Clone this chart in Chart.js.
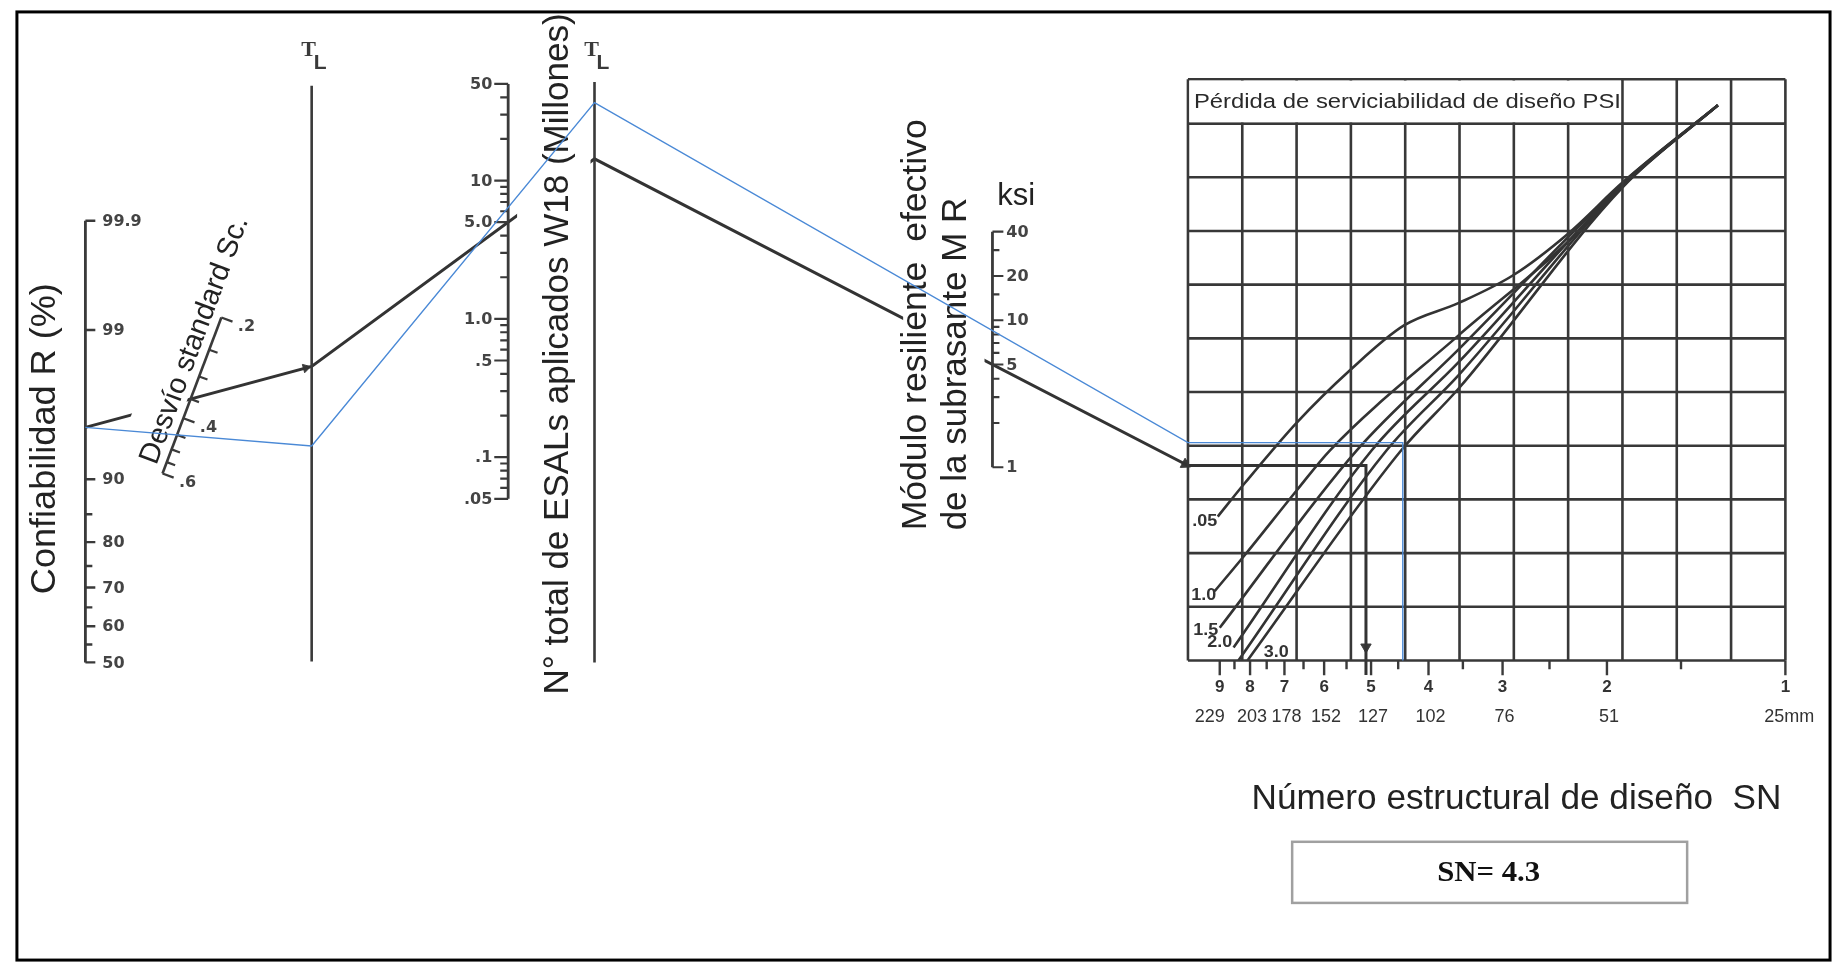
<!DOCTYPE html>
<html>
<head>
<meta charset="utf-8">
<title>Ábaco de diseño - Número estructural SN</title>
<script src="https://cdn.jsdelivr.net/npm/chart.js@4.4.1/dist/chart.umd.min.js"></script>
<style>
  html, body { margin: 0; padding: 0; background: #fff; }
  #wrap { position: relative; width: 1843px; height: 972px; }
</style>
</head>
<body>
<div id="wrap"><canvas id="abaco" width="1843" height="972"></canvas></div>
<script>
// ---- scale values ----
const rLabels = [50, 60, 70, 80, 90, 99, 99.9];
const rMinor = [55, 65, 75, 85];
const scTicks = [0.2, 0.25, 0.3, 0.35, 0.4, 0.45, 0.5, 0.55, 0.6];
const scLabels = [0.2, 0.4, 0.6];
const w18Labels = [0.05, 0.1, 0.5, 1, 5, 10, 50];
const w18Text = ['.05', '.1', '.5', '1.0', '5.0', '10', '50'];
const w18Minor = [0.06, 0.07, 0.08, 0.09, 0.2, 0.3, 0.4, 0.6, 0.7, 0.8, 0.9, 2, 3, 4, 6, 7, 8, 9, 20, 30, 40];
const mrLabels = [1, 5, 10, 20, 40];
const mrMinor = [2, 3, 4, 6, 7, 8, 9, 15, 30];
const snLabels = [1, 2, 3, 4, 5, 6, 7, 8, 9];
const snMinor = [1.5, 2.5, 3.5, 4.5, 5.5, 6.5, 7.5, 8.5];
const mmLabels = ['25mm', '51', '76', '102', '127', '152', '178', '203', '229'];

// curves of design serviceability loss (SN on x, grid rows on y)
const psiNames = ['.05', '1.0', '1.5', '2.0', '2.5', '3.0'];
const psi05SN = [9.07, 8.17, 6.66, 5.41, 4.40, 3.555, 2.875, 2.326, 1.875, 1.30];
const psi05V = [2.68, 3.30, 4.44, 5.42, 6.24, 6.66, 7.18, 7.95, 8.92, 10.34];
const psi10SN = [9.18, 8.17, 6.66, 5.87, 3.555, 2.326, 1.875, 1.30];
const psi10V = [1.29, 1.96, 3.18, 3.91, 6.06, 7.80, 8.90, 10.34];
const psi15SN = [9.00, 5.29, 3.555, 1.875, 1.30];
const psi15V = [0.61, 3.91, 5.80, 8.89, 10.34];
const psi20SN = [8.53, 4.99, 3.555, 1.875, 1.30];
const psi20V = [0.24, 3.91, 5.56, 8.87, 10.34];
const psi25SN = [8.37, 4.71, 3.555, 1.875, 1.30];
const psi25V = [0.00, 3.91, 5.32, 8.85, 10.34];
const psi30SN = [8.08, 4.45, 3.555, 1.875, 1.30];
const psi30V = [0.00, 3.91, 5.07, 8.83, 10.34];

// solution lines: 0 = example of the chart (black), 1 = design (blue)
const solR = [95, 95];
const solS0 = [0.35, 0.45];
const solW18 = [5.0, 6.4];
const solMR = [5.0, 8.5];
const solSN = [5.1, 4.42];

// ---- layout of the nomograph (page units) ----
const R_AXIS = { x: 79, y0: 665, k: 145 };
const SC_AXIS = { x1: 216, y1: 315, x2: 156.7, y2: 473.3, c: 0.285 };
const TL1 = { x: 307, top: 80, bot: 664 };
const TL2 = { x: 592, top: 76, bot: 665 };
const W18_AXIS = { x: 505, yTop: 78, yBot: 499, vTop: 50, vBot: 0.05 };
const MR_AXIS = { x: 993, yTop: 228, yBot: 467, vTop: 40, vBot: 1 };
const GRID = { left: 1190, right: 1792, top: 73.3, head: 118.3, bottom: 663, cols: 11, rows: 10 };
const SN_AXIS = { x1: 1792, decade: 597.3 };

const SANS = '"Liberation Sans", Arial, Helvetica, sans-serif';
const SERIF = '"Liberation Serif", "Times New Roman", serif';
const TICKFONT = 'bold 16px "DejaVu Sans", sans-serif';
const INK = '#3a3a3a';
const BLUE = '#4a89d6';

// inverse of the standard normal (reliability scale is linear in Z)
function normInv(p) {
    const a = [-39.69683028665376, 220.9460984245205, -275.9285104469687, 138.3577518672690, -30.66479806614716, 2.506628277459239];
    const b = [-54.47609879822406, 161.5858368580409, -155.6989798598866, 66.80131188771972, -13.28068155288572];
    const c = [-0.007784894002430293, -0.3223964580411365, -2.400758277161838, -2.549671348830303, 4.374664141464968, 2.938163982698783];
    const d = [0.007784695709041462, 0.3224671290700398, 2.445134137142996, 3.754408661907416];
    if (p < 0.02425) {
        const q = Math.sqrt(-2 * Math.log(p));
        return (((((c[0] * q + c[1]) * q + c[2]) * q + c[3]) * q + c[4]) * q + c[5]) / ((((d[0] * q + d[1]) * q + d[2]) * q + d[3]) * q + 1);
    }
    if (p > 1 - 0.02425) {
        const q = Math.sqrt(-2 * Math.log(1 - p));
        return -(((((c[0] * q + c[1]) * q + c[2]) * q + c[3]) * q + c[4]) * q + c[5]) / ((((d[0] * q + d[1]) * q + d[2]) * q + d[3]) * q + 1);
    }
    const q = p - 0.5, r = q * q;
    return (((((a[0] * r + a[1]) * r + a[2]) * r + a[3]) * r + a[4]) * r + a[5]) * q / (((((b[0] * r + b[1]) * r + b[2]) * r + b[3]) * r + b[4]) * r + 1);
}

function rPt(r) { return { x: R_AXIS.x, y: R_AXIS.y0 - R_AXIS.k * normInv(r / 100) }; }
function scFrac(s) { const c = SC_AXIS.c; return ((s - 0.2) / (s + c)) / (0.4 / (0.6 + c)); }
function scPt(s) {
    const f = scFrac(s);
    return { x: SC_AXIS.x1 + (SC_AXIS.x2 - SC_AXIS.x1) * f, y: SC_AXIS.y1 + (SC_AXIS.y2 - SC_AXIS.y1) * f };
}
function logPt(ax, v) {
    const f = (Math.log10(ax.vTop) - Math.log10(v)) / (Math.log10(ax.vTop) - Math.log10(ax.vBot));
    return { x: ax.x, y: ax.yTop + (ax.yBot - ax.yTop) * f };
}
function gridPt(sn, v) {
    return { x: SN_AXIS.x1 - SN_AXIS.decade * Math.log10(sn), y: GRID.bottom - v * (GRID.bottom - GRID.head) / GRID.rows };
}
function atX(p, q, x) { return { x: x, y: p.y + (q.y - p.y) * (x - p.x) / (q.x - p.x) }; }

// Sc scale direction (bottom -> top) and its right-hand normal
const scLen = Math.hypot(SC_AXIS.x1 - SC_AXIS.x2, SC_AXIS.y1 - SC_AXIS.y2);
const scU = { x: (SC_AXIS.x1 - SC_AXIS.x2) / scLen, y: (SC_AXIS.y1 - SC_AXIS.y2) / scLen };
const scN = { x: -scU.y, y: scU.x };

// construct a solution line through the nomograph
function solution(i) {
    const pR = rPt(solR[i]);
    const pT1 = atX(pR, scPt(solS0[i]), TL1.x);
    const pT2 = atX(pT1, logPt(W18_AXIS, solW18[i]), TL2.x);
    const pG = atX(pT2, logPt(MR_AXIS, solMR[i]), GRID.left);
    const vEdge = (GRID.bottom - pG.y) / (GRID.bottom - GRID.head) * GRID.rows;
    const pC = gridPt(solSN[i], vEdge);
    return { pR, pT1, pT2, pG, pC };
}

const datasets = [];
function addLine(points, color, width, extra) {
    datasets.push(Object.assign({
        data: points, showLine: true, borderColor: color, borderWidth: width,
        pointRadius: 0, fill: false, order: 2
    }, extra || {}));
}
// many short segments in one dataset, separated by gaps
function addSegments(pairs, color, width) {
    const pts = [];
    pairs.forEach(pr => { pts.push(pr[0], pr[1], { x: pr[1].x, y: null }); });
    addLine(pts, color, width);
}
function addArrow(p, q, back, size) {
    const L = Math.hypot(q.x - p.x, q.y - p.y);
    const ux = (q.x - p.x) / L, uy = (q.y - p.y) / L;
    datasets.push({
        data: [{ x: q.x - ux * back, y: q.y - uy * back }], showLine: false,
        pointStyle: 'triangle', pointRadius: size, rotation: Math.atan2(ux, -uy) * 180 / Math.PI,
        backgroundColor: INK, borderColor: INK, borderWidth: 1, order: 2
    });
}

// grid
const gridSegs = [];
const colW = (GRID.right - GRID.left) / GRID.cols;
const rowH = (GRID.bottom - GRID.head) / GRID.rows;
for (let j = 0; j <= GRID.cols; j++) {
    const x = GRID.left + j * colW;
    gridSegs.push([{ x: x, y: GRID.top }, { x: x, y: GRID.bottom }]);
}
for (let i = 0; i <= GRID.rows; i++) {
    const y = GRID.bottom - i * rowH;
    gridSegs.push([{ x: GRID.left, y: y }, { x: GRID.right, y: y }]);
}
gridSegs.push([{ x: GRID.left, y: GRID.top }, { x: GRID.right, y: GRID.top }]);
addSegments(gridSegs, '#383838', 2.6);

// SN axis ticks
const snSegs = [];
snLabels.forEach(s => { const p = gridPt(s, 0); snSegs.push([p, { x: p.x, y: p.y + 15 }]); });
snMinor.forEach(s => { const p = gridPt(s, 0); snSegs.push([p, { x: p.x, y: p.y + 9 }]); });
addSegments(snSegs, INK, 2.4);

// serviceability curves
[[psi05SN, psi05V], [psi10SN, psi10V], [psi15SN, psi15V], [psi20SN, psi20V], [psi25SN, psi25V], [psi30SN, psi30V]]
    .forEach(c => addLine(c[0].map((s, k) => gridPt(s, c[1][k])), '#333', 2.6, { cubicInterpolationMode: 'monotone' }));

// R axis
addLine([rPt(99.9), rPt(50)], INK, 2.8);
const rSegs = [];
rLabels.forEach(r => { const p = rPt(r); rSegs.push([p, { x: p.x + 10, y: p.y }]); });
rMinor.forEach(r => { const p = rPt(r); rSegs.push([p, { x: p.x + 7, y: p.y }]); });
addSegments(rSegs, INK, 2.4);

// Sc scale
addLine([scPt(0.2), scPt(0.6)], INK, 2.6);
addSegments(scTicks.map(s => {
    const p = scPt(s), len = scLabels.includes(s) ? 12 : 9;
    return [p, { x: p.x + scN.x * len, y: p.y + scN.y * len }];
}), INK, 2.2);

// turning lines
addLine([{ x: TL1.x, y: TL1.top }, { x: TL1.x, y: TL1.bot }], INK, 2.6);
addLine([{ x: TL2.x, y: TL2.top }, { x: TL2.x, y: TL2.bot }], INK, 2.6);

// W18 scale
addLine([logPt(W18_AXIS, 50), logPt(W18_AXIS, 0.05)], INK, 2.8);
const wSegs = [];
w18Labels.forEach(v => { const p = logPt(W18_AXIS, v); wSegs.push([p, { x: p.x - 14, y: p.y }]); });
w18Minor.forEach(v => { const p = logPt(W18_AXIS, v); wSegs.push([p, { x: p.x - 8, y: p.y }]); });
addSegments(wSegs, INK, 2.2);

// MR scale
addLine([logPt(MR_AXIS, 40), logPt(MR_AXIS, 1)], INK, 2.8);
const mSegs = [];
mrLabels.forEach(v => { const p = logPt(MR_AXIS, v); mSegs.push([p, { x: p.x + 11, y: p.y }]); });
mrMinor.forEach(v => { const p = logPt(MR_AXIS, v); mSegs.push([p, { x: p.x + 7, y: p.y }]); });
addSegments(mSegs, INK, 2.2);

// example solution (black)
const ex = solution(0);
const exEnd = gridPt(solSN[0], -0.27);
addLine([ex.pR, ex.pT1, ex.pT2, ex.pG, ex.pC, exEnd], '#333', 3);
addArrow(ex.pR, ex.pT1, 6, 5);
addArrow(ex.pT2, ex.pG, 3, 6);
addArrow(ex.pC, gridPt(solSN[0], 0.25), 0, 6);

// design solution (blue), drawn last
const ds = solution(1);
addLine([ds.pR, ds.pT1, ds.pT2, ds.pG, ds.pC, gridPt(solSN[1], 0)], BLUE, 1.4, { order: 1 });

// ---- text ----
function txt(ctx, str, x, y, o) {
    ctx.save();
    ctx.translate(x, y);
    if (o.rot) ctx.rotate(o.rot);
    ctx.font = o.font;
    ctx.fillStyle = o.color || '#222';
    ctx.textAlign = o.align || 'center';
    ctx.textBaseline = o.base || 'middle';
    if (o.width) ctx.scale(o.width / ctx.measureText(str).width, 1);
    ctx.fillText(str, 0, 0);
    ctx.restore();
}
function scText(s) { return s.toFixed(1).replace(/^0/, ''); }

function drawLabels(chart) {
    const ctx = chart.ctx;
    const sx = chart.scales.x, sy = chart.scales.y;
    const X = v => sx.getPixelForValue(v), Y = v => sy.getPixelForValue(v);
    const rect = (x1, y1, x2, y2) => ctx.fillRect(X(x1), Y(y1), X(x2) - X(x1), Y(y2) - Y(y1));
    ctx.save();

    // white panels of the pasted labels
    ctx.fillStyle = '#fff';
    rect(514, 8, 588, 700);
    rect(903, 100, 985, 545);
    rect(GRID.left + 1.4, GRID.top + 1.4, GRID.left + 8 * colW - 1.4, GRID.head - 1.4);
    const scAng = Math.atan2(scU.y, scU.x);
    ctx.save();
    ctx.translate(X(SC_AXIS.x1), Y(SC_AXIS.y1));
    ctx.rotate(scAng);
    ctx.fillRect(-170, -50, 265, 47);
    ctx.restore();

    // axis titles
    txt(ctx, 'Confiabilidad R (%)', X(39), Y(438), { font: '35px ' + SANS, rot: -Math.PI / 2, width: 311 });
    txt(ctx, 'N° total de ESALs aplicados W18 (Millones)', X(556), Y(352), { font: '35px ' + SANS, rot: -Math.PI / 2, width: 681 });
    txt(ctx, 'Módulo resiliente  efectivo', X(916), Y(531), { font: '35px ' + SANS, rot: -Math.PI / 2, align: 'left', width: 411 });
    txt(ctx, 'de la subrasante M R', X(957), Y(531), { font: '35px ' + SANS, rot: -Math.PI / 2, align: 'left' });
    txt(ctx, 'ksi', X(1017), Y(192), { font: '31px ' + SANS });
    const scMid = { x: SC_AXIS.x1 - 31 * scU.x - 17 * scN.x, y: SC_AXIS.y1 - 31 * scU.y - 17 * scN.y };
    txt(ctx, 'Desvío standard Sc.', X(scMid.x), Y(scMid.y), { font: '29px ' + SANS, rot: scAng, width: 262 });

    // turning line marks
    [TL1, TL2].forEach(t => {
        txt(ctx, 'T', X(t.x - 3), Y(44), { font: 'bold 22px ' + SERIF, color: '#3a3a3a' });
        txt(ctx, 'L', X(t.x + 2), Y(57), { font: 'bold 21px ' + SANS, color: '#3a3a3a', align: 'left' });
    });

    // scale numbers
    const tick = { font: TICKFONT, color: '#444' };
    rLabels.forEach(r => { const p = rPt(r); txt(ctx, String(r), X(p.x + 17), Y(p.y + 1), Object.assign({ align: 'left' }, tick)); });
    scLabels.forEach(s => { const p = scPt(s); txt(ctx, scText(s), X(p.x + scN.x * 27), Y(p.y + scN.y * 27), tick); });
    w18Labels.forEach((v, i) => { const p = logPt(W18_AXIS, v); txt(ctx, w18Text[i], X(p.x - 16), Y(p.y + 1), Object.assign({ align: 'right' }, tick)); });
    mrLabels.forEach(v => { const p = logPt(MR_AXIS, v); txt(ctx, String(v), X(p.x + 14), Y(p.y + 1), Object.assign({ align: 'left' }, tick)); });

    // serviceability chart
    txt(ctx, 'Pérdida de serviciabilidad de diseño PSI', X(GRID.left + 6), Y(97), { font: '20px ' + SANS, align: 'left', width: 427, color: '#2a2a2a' });
    const curveLab = [[1207, 522], [1206, 597], [1208, 632], [1222, 645], null, [1279, 655]];
    psiNames.forEach((n, i) => {
        if (curveLab[i]) txt(ctx, n, X(curveLab[i][0]), Y(curveLab[i][1]), { font: 'bold 17px ' + SANS, color: '#333', width: 25 });
    });
    snLabels.forEach(s => { const p = gridPt(s, 0); txt(ctx, String(s), X(p.x), Y(690), { font: 'bold 17px ' + SANS, color: '#333' }); });
    mmLabels.forEach((m, i) => {
        const p = gridPt(snLabels[i], 0);
        const dx = i === 0 ? 4 : (i === 8 ? -10 : 2);
        txt(ctx, m, X(p.x + dx), Y(720), { font: '18px ' + SANS, color: '#333' });
    });
    txt(ctx, 'Número estructural de diseño  SN', X(1254), Y(804), { font: '35px ' + SANS, align: 'left', width: 530 });

    // result box
    ctx.strokeStyle = '#a0a0a0';
    ctx.lineWidth = 2.5;
    ctx.strokeRect(X(1295), Y(847), X(1693) - X(1295), Y(909) - Y(847));
    txt(ctx, 'SN= 4.3', X(1493), Y(879), { font: 'bold 30px ' + SERIF, color: '#111', width: 103 });

    // page frame
    ctx.strokeStyle = '#000';
    ctx.lineWidth = 3;
    ctx.strokeRect(X(10), Y(5), X(1837) - X(10), Y(967) - Y(5));
    ctx.restore();
}

const labelPlugin = {
    id: 'nomoLabels',
    beforeDatasetsDraw(chart) { chart.$labelsDone = false; },
    beforeDatasetDraw(chart, args) {
        if (!chart.$labelsDone && chart.data.datasets[args.index].order === 1) {
            drawLabels(chart);
            chart.$labelsDone = true;
        }
    },
    afterDatasetsDraw(chart) {
        if (!chart.$labelsDone) { drawLabels(chart); chart.$labelsDone = true; }
    }
};

new Chart(document.getElementById('abaco').getContext('2d'), {
    type: 'scatter',
    data: { datasets: datasets },
    options: {
        responsive: false,
        animation: false,
        devicePixelRatio: 1,
        events: [],
        layout: { padding: 0 },
        scales: {
            x: { type: 'linear', min: 0, max: 1843, display: false },
            y: { type: 'linear', min: 0, max: 972, reverse: true, display: false }
        },
        plugins: { legend: { display: false }, tooltip: { enabled: false } }
    },
    plugins: [labelPlugin]
});
</script>
</body>
</html>
